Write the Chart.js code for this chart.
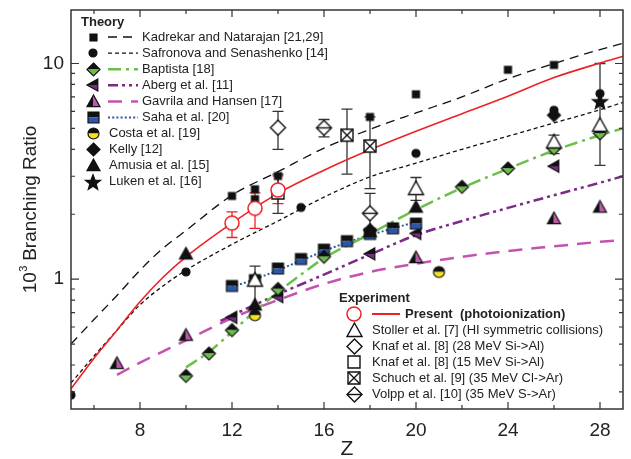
<!DOCTYPE html>
<html>
<head>
<meta charset="utf-8">
<script src="https://cdn.jsdelivr.net/npm/chart.js@4.4.1/dist/chart.umd.min.js"></script>
<style>
  body { margin: 0; background: #fff; }
  canvas { display: block; }
</style>
</head>
<body>
<canvas id="chart" width="631" height="459"></canvas>
<script>
// ---- theory curves (Z, 10^3 branching ratio) ----
const kadZ = [5, 6, 7, 8, 9, 10, 12, 14, 16, 18, 20, 22, 24, 26, 28, 29];
const kadLine = [0.50, 0.65, 0.84, 1.10, 1.39, 1.68, 2.45, 3.15, 4.05, 4.95, 5.9, 7.0, 8.5, 10.0, 11.6, 12.4];
const safZ = [5, 6, 7, 8, 9, 10, 12, 14, 16, 18, 20, 22, 24, 26, 28, 29];
const safLine = [0.33, 0.44, 0.58, 0.76, 0.93, 1.1, 1.45, 1.86, 2.4, 2.98, 3.45, 4.0, 4.6, 5.3, 6.1, 6.6];
const presZ = [5, 6, 7, 8, 9, 10, 12, 14, 16, 18, 20, 22, 24, 26, 28, 29];
const presLine = [0.31, 0.43, 0.58, 0.785, 1.02, 1.27, 1.82, 2.5, 3.2, 3.98, 4.85, 5.85, 7.05, 8.6, 10.05, 10.8];
const baptZ = [10, 11, 12, 13, 14, 15, 16, 18, 20, 22, 24, 26, 28, 29];
const baptLine = [0.39, 0.46, 0.57, 0.71, 0.87, 1.05, 1.25, 1.62, 2.1, 2.65, 3.25, 3.95, 4.65, 5.0];
const abergZ = [11.5, 12, 14, 16, 18, 20, 22, 24, 26, 28, 29];
const abergLine = [0.64, 0.68, 0.85, 1.05, 1.3, 1.6, 1.86, 2.14, 2.45, 2.8, 3.0];
const gavZ = [7, 8, 10, 12, 14, 16, 18, 20, 22, 24, 26, 28, 29];
const gavLine = [0.36, 0.41, 0.52, 0.66, 0.8, 0.95, 1.08, 1.18, 1.27, 1.35, 1.42, 1.49, 1.52];
const sahaZ = [12, 13, 14, 15, 16, 17, 18, 19, 20];
const sahaLine = [0.92, 1.0, 1.1, 1.22, 1.35, 1.48, 1.6, 1.72, 1.84];

// ---- theory points ----
const kadPtsZ = [12, 13, 13, 14, 18, 20, 24, 26];
const kadPts = [2.43, 2.61, 2.35, 3.01, 5.65, 7.2, 9.35, 9.84];
const safPtsZ = [5, 10, 15, 20, 26, 28];
const safPts = [0.29, 1.08, 2.15, 3.83, 6.07, 7.25];
const baptPtsZ = [10, 11, 12, 14, 16, 22, 24, 26, 28];
const baptPts = [0.356, 0.452, 0.58, 0.9, 1.27, 2.68, 3.26, 4.03, 4.74];
const abergPtsZ = [12, 14, 18, 20, 26];
const abergPts = [0.665, 0.83, 1.31, 1.63, 3.34];
const gavPtsZ = [7, 10, 20, 26, 28];
const gavPts = [0.407, 0.55, 1.26, 1.91, 2.16];
const sahaPtsZ = [12, 13, 14, 15, 16, 17, 18, 19, 20];
const sahaPts = [0.93, 0.99, 1.12, 1.24, 1.37, 1.5, 1.62, 1.72, 1.81];
const costaPtsZ = [13, 21];
const costaPts = [0.68, 1.08];
const kellyPtsZ = [18, 26];
const kellyPts = [1.69, 5.76];
const amusiaPtsZ = [10, 13, 18, 20];
const amusiaPts = [1.31, 0.76, 1.66, 2.16];
const lukenPtsZ = [28];
const lukenPts = [6.68];

// ---- experiments (value, low, high) ----
const presPtsZ = [12, 13, 14];
const presPts = [1.82, 2.13, 2.59];
const presLo = [1.56, 1.72, 2.24];
const presHi = [2.05, 2.51, 3.01];
const stolZ = [13, 20, 26, 28];
const stolPts = [0.99, 2.63, 4.33, 5.17];
const stolLo = [0.74, 2.32, 3.82, 3.37];
const stolHi = [1.15, 2.96, 4.65, 10.0];
const knaf28Z = [14];
const knaf28Pts = [5.04];
const knaf28Lo = [4.0];
const knaf28Hi = [6.0];
const knaf15Z = [14];
const knaf15Pts = [2.51];
const knaf15Lo = [2.02];
const knaf15Hi = [3.07];
const schuchZ = [17, 18];
const schuchPts = [4.65, 4.14];
const schuchLo = [3.07, 2.63];
const schuchHi = [6.14, 5.65];
const volppZ = [16, 18];
const volppPts = [5.03, 2.02];
const volppLo = [4.57, 1.63];
const volppHi = [5.5, 2.5];

const xTicks = [8, 12, 16, 20, 24, 28];
const yTicks = [1, 10];

const FONT = "'Liberation Sans', Arial, sans-serif";
const GREEN = '#6cc04a', PURPLE = '#7b2a86', MAGENTA = '#c452b0', BLUE = '#2c56a8', YELLOW = '#f3e21c', RED = '#ec2227';

function shapePath(g, shape, m, r) {
  g.beginPath();
  if (shape === 'square') {
    g.rect(m - r, m - r, 2 * r, 2 * r);
  } else if (shape === 'circle') {
    g.arc(m, m, r, 0, Math.PI * 2);
  } else if (shape === 'diamond') {
    g.moveTo(m, m - r); g.lineTo(m + r, m); g.lineTo(m, m + r); g.lineTo(m - r, m); g.closePath();
  } else if (shape === 'tri') {
    g.moveTo(m, m - r); g.lineTo(m + r, m + r * 0.8); g.lineTo(m - r, m + r * 0.8); g.closePath();
  } else if (shape === 'triLeft') {
    g.moveTo(m - r, m); g.lineTo(m + r * 0.8, m - r); g.lineTo(m + r * 0.8, m + r); g.closePath();
  } else if (shape === 'star') {
    for (let i = 0; i < 10; i++) {
      const a = -Math.PI / 2 + i * Math.PI / 5;
      const rr = i % 2 === 0 ? r : r * 0.42;
      const px = m + rr * Math.cos(a), py = m + rr * Math.sin(a) + r * 0.1;
      if (i === 0) g.moveTo(px, py); else g.lineTo(px, py);
    }
    g.closePath();
  }
}

// builds a small canvas used as a point style
function marker(shape, size, fill, fill2, split, extra, lw) {
  const pad = 2;
  const s = Math.ceil(size + pad * 2);
  const c = document.createElement('canvas');
  c.width = s; c.height = s;
  const g = c.getContext('2d');
  const m = s / 2, r = size / 2;
  shapePath(g, shape, m, r);
  if (fill2) {
    g.save(); g.clip();
    if (split === 'v') {
      g.fillStyle = fill; g.fillRect(0, 0, m, s);
      g.fillStyle = fill2; g.fillRect(m, 0, s - m, s);
    } else {
      g.fillStyle = fill; g.fillRect(0, 0, s, m);
      g.fillStyle = fill2; g.fillRect(0, m, s, s - m);
    }
    g.restore();
  } else if (fill) {
    g.fillStyle = fill; g.fill();
  }
  shapePath(g, shape, m, r);
  g.lineWidth = lw || 1.2;
  g.strokeStyle = extra === 'red' ? RED : '#111';
  g.stroke();
  g.strokeStyle = '#111';
  if (extra === 'x') {
    g.beginPath();
    g.moveTo(m - r, m - r); g.lineTo(m + r, m + r);
    g.moveTo(m + r, m - r); g.lineTo(m - r, m + r);
    g.stroke();
  } else if (extra === 'h') {
    g.beginPath(); g.moveTo(m - r, m); g.lineTo(m + r, m); g.stroke();
  }
  return c;
}

const M = {
  kad: marker('square', 7, '#111'),
  saf: marker('circle', 8, '#111'),
  bapt: marker('diamond', 13, '#111', GREEN, 'h'),
  aberg: marker('triLeft', 12, '#111', PURPLE, 'h'),
  gav: marker('tri', 13, '#111', MAGENTA, 'v'),
  saha: marker('square', 11, '#111', BLUE, 'h'),
  costa: marker('circle', 11, '#111', YELLOW, 'h'),
  kelly: marker('diamond', 13, '#111'),
  amusia: marker('tri', 13, '#111'),
  luken: marker('star', 16, '#111'),
  pres: marker('circle', 14, '#fff', null, null, 'red', 1.5),
  stol: marker('tri', 15, '#fff', null, null, null, 1.4),
  knaf28: marker('diamond', 15, '#fff', null, null, null, 1.4),
  knaf15: marker('square', 12, '#fff', null, null, null, 1.4),
  schuch: marker('square', 12, '#fff', null, null, 'x', 1.4),
  volpp: marker('diamond', 15, '#fff', null, null, 'h', 1.4)
};

function pts(zs, vs) { return zs.map((z, i) => ({ x: z, y: vs[i] })); }

function lineSet(zs, vs, color, width, dash) {
  return {
    data: pts(zs, vs), showLine: true, borderColor: color, borderWidth: width,
    borderDash: dash, pointRadius: 0, cubicInterpolationMode: 'monotone', fill: false, order: 2
  };
}
function pointSet(zs, vs, img) {
  return { data: pts(zs, vs), showLine: false, pointStyle: img, pointRadius: 7, order: 0 };
}

const errorBars = [
  { z: presPtsZ, lo: presLo, hi: presHi, color: RED },
  { z: stolZ, lo: stolLo, hi: stolHi, color: '#333' },
  { z: knaf28Z, lo: knaf28Lo, hi: knaf28Hi, color: '#333' },
  { z: knaf15Z, lo: knaf15Lo, hi: knaf15Hi, color: '#333' },
  { z: schuchZ, lo: schuchLo, hi: schuchHi, color: '#333' },
  { z: volppZ, lo: volppLo, hi: volppHi, color: '#333' }
];

const errorBarPlugin = {
  id: 'errorBars',
  beforeDatasetsDraw(chart) {
    const { ctx, chartArea, scales: { x, y } } = chart;
    ctx.save();
    ctx.beginPath();
    ctx.rect(chartArea.left, chartArea.top, chartArea.right - chartArea.left, chartArea.bottom - chartArea.top);
    ctx.clip();
    errorBars.forEach(set => {
      ctx.strokeStyle = set.color;
      ctx.lineWidth = 1.3;
      set.z.forEach((z, i) => {
        const px = x.getPixelForValue(z);
        const y1 = y.getPixelForValue(set.lo[i]);
        const y2 = y.getPixelForValue(set.hi[i]);
        ctx.beginPath();
        ctx.moveTo(px, y1); ctx.lineTo(px, y2);
        ctx.moveTo(px - 5.5, y1); ctx.lineTo(px + 5.5, y1);
        ctx.moveTo(px - 5.5, y2); ctx.lineTo(px + 5.5, y2);
        ctx.stroke();
      });
    });
    ctx.restore();
  }
};

const frameLegendPlugin = {
  id: 'frameLegend',
  afterDraw(chart) {
    const { ctx, chartArea: a, scales: { x, y } } = chart;
    ctx.save();
    // frame
    ctx.strokeStyle = '#333';
    ctx.lineWidth = 1.5;
    ctx.strokeRect(a.left, a.top, a.right - a.left, a.bottom - a.top);
    // inward ticks, all four sides
    ctx.lineWidth = 1.2;
    ctx.beginPath();
    for (let z = 6; z <= 28; z += 2) {
      const px = x.getPixelForValue(z);
      const len = z % 4 === 0 ? 7 : 4;
      ctx.moveTo(px, a.bottom); ctx.lineTo(px, a.bottom - len);
      ctx.moveTo(px, a.top); ctx.lineTo(px, a.top + len);
    }
    const yMinor = [0.3, 0.4, 0.5, 0.6, 0.7, 0.8, 0.9, 1, 2, 3, 4, 5, 6, 7, 8, 9, 10];
    yMinor.forEach(v => {
      const py = y.getPixelForValue(v);
      const len = (v === 1 || v === 10) ? 8 : 4;
      ctx.moveTo(a.left, py); ctx.lineTo(a.left + len, py);
      ctx.moveTo(a.right, py); ctx.lineTo(a.right - len, py);
    });
    ctx.stroke();

    // axis titles
    ctx.fillStyle = '#222';
    ctx.font = '21px ' + FONT;
    ctx.textAlign = 'center';
    ctx.textBaseline = 'middle';
    ctx.fillText('Z', (a.left + a.right) / 2, 449);

    ctx.save();
    ctx.translate(29, (a.top + a.bottom) / 2);
    ctx.rotate(-Math.PI / 2);
    ctx.textAlign = 'left';
    ctx.textBaseline = 'alphabetic';
    const t1 = '10', t3 = ' Branching Ratio';
    ctx.font = '19px ' + FONT;
    const w1 = ctx.measureText(t1).width;
    ctx.font = '11px ' + FONT;
    const w2 = ctx.measureText('3').width;
    ctx.font = '19px ' + FONT;
    const w3 = ctx.measureText(t3).width;
    const sx = -(w1 + w2 + w3) / 2;
    ctx.fillText(t1, sx, 7);
    ctx.font = '11px ' + FONT;
    ctx.fillText('3', sx + w1 + 0.5, -2);
    ctx.font = '19px ' + FONT;
    ctx.fillText(t3, sx + w1 + w2, 7);
    ctx.restore();

    // legends
    ctx.textAlign = 'left';
    ctx.textBaseline = 'middle';
    const img = (m, cx, cy) => ctx.drawImage(m, Math.round(cx - m.width / 2), Math.round(cy - m.height / 2));
    const seg = (x1, x2, cy, color, w, dash) => {
      ctx.save();
      ctx.strokeStyle = color; ctx.lineWidth = w; ctx.setLineDash(dash);
      ctx.beginPath(); ctx.moveTo(x1, cy); ctx.lineTo(x2, cy); ctx.stroke();
      ctx.restore();
    };

    ctx.font = 'bold 13px ' + FONT;
    ctx.fillStyle = '#222';
    ctx.fillText('Theory', 81, 22);
    const theory = [
      [M.kad, 'Kadrekar and Natarajan [21,29]', '#111', 1.3, [9, 6]],
      [M.saf, 'Safronova and Senashenko [14]', '#111', 1.3, [4, 3]],
      [M.bapt, 'Baptista [18]', GREEN, 2.5, [13, 5, 3, 5]],
      [M.aberg, 'Aberg et al. [11]', PURPLE, 2.5, [10, 4, 3, 4, 3, 4]],
      [M.gav, 'Gavrila and Hansen [17]', MAGENTA, 2.5, [14, 9]],
      [M.saha, 'Saha et al. [20]', BLUE, 2, [2, 2.2]],
      [M.costa, 'Costa et al. [19]'],
      [M.kelly, 'Kelly [12]'],
      [M.amusia, 'Amusia et al. [15]'],
      [M.luken, 'Luken et al. [16]']
    ];
    ctx.font = '13px ' + FONT;
    theory.forEach((row, i) => {
      const cy = 37 + i * 16.1;
      img(row[0], 93, cy);
      if (row[2]) {
        seg(108, 138, cy, row[2], row[3], row[4]);
        ctx.fillText(row[1], 142, cy);
      } else {
        ctx.fillText(row[1], 109, cy);
      }
    });

    ctx.font = 'bold 13px ' + FONT;
    ctx.fillText('Experiment', 339, 298);
    img(M.pres, 354, 314);
    seg(372, 400, 314, RED, 2, []);
    ctx.fillText('Present  (photoionization)', 405, 314);
    ctx.font = '13px ' + FONT;
    const exp = [
      [M.stol, 'Stoller et al. [7] (HI symmetric collisions)'],
      [M.knaf28, 'Knaf et al. [8] (28 MeV Si->Al)'],
      [M.knaf15, 'Knaf et al. [8] (15 MeV Si->Al)'],
      [M.schuch, 'Schuch et al. [9] (35 MeV Cl->Ar)'],
      [M.volpp, 'Volpp et al. [10] (35 MeV S->Ar)']
    ];
    exp.forEach((row, i) => {
      const cy = 330.5 + i * 15.9;
      img(row[0], 354, cy);
      ctx.fillText(row[1], 372, cy);
    });
    ctx.restore();
  }
};

function noPad(s) {
  s.paddingTop = 0; s.paddingBottom = 0; s.paddingLeft = 0; s.paddingRight = 0;
}

new Chart(document.getElementById('chart'), {
  type: 'scatter',
  data: {
    datasets: [
      pointSet(presPtsZ, presPts, M.pres),
      pointSet(stolZ, stolPts, M.stol),
      pointSet(knaf28Z, knaf28Pts, M.knaf28),
      pointSet(knaf15Z, knaf15Pts, M.knaf15),
      pointSet(schuchZ, schuchPts, M.schuch),
      pointSet(volppZ, volppPts, M.volpp),
      pointSet(lukenPtsZ, lukenPts, M.luken),
      pointSet(safPtsZ, safPts, M.saf),
      pointSet(kadPtsZ, kadPts, M.kad),
      pointSet(costaPtsZ, costaPts, M.costa),
      pointSet(amusiaPtsZ, amusiaPts, M.amusia),
      pointSet(kellyPtsZ, kellyPts, M.kelly),
      pointSet(baptPtsZ, baptPts, M.bapt),
      pointSet(sahaPtsZ, sahaPts, M.saha),
      pointSet(abergPtsZ, abergPts, M.aberg),
      pointSet(gavPtsZ, gavPts, M.gav),
      lineSet(presZ, presLine, RED, 1.6, []),
      lineSet(kadZ, kadLine, '#111', 1.3, [9, 6]),
      lineSet(safZ, safLine, '#111', 1.3, [4, 3]),
      lineSet(baptZ, baptLine, GREEN, 2.5, [13, 5, 3, 5]),
      lineSet(abergZ, abergLine, PURPLE, 2.5, [10, 4, 3, 4, 3, 4]),
      lineSet(gavZ, gavLine, MAGENTA, 2.5, [14, 9]),
      lineSet(sahaZ, sahaLine, BLUE, 2, [2, 2.2])
    ]
  },
  options: {
    responsive: false,
    animation: false,
    devicePixelRatio: 1,
    events: [],
    layout: { padding: { top: 10, right: 4, left: 0, bottom: 0 } },
    plugins: { legend: { display: false }, tooltip: { enabled: false } },
    scales: {
      x: {
        type: 'linear', min: 5, max: 29,
        grid: { display: false, drawTicks: false },
        border: { display: false },
        afterBuildTicks: s => { s.ticks = xTicks.map(v => ({ value: v })); },
        afterFit: s => { s.height = 50; noPad(s); },
        ticks: { padding: 10, color: '#222', font: { size: 19, family: FONT }, maxRotation: 0 }
      },
      y: {
        type: 'logarithmic', min: 0.25, max: 17.7,
        grid: { display: false, drawTicks: false },
        border: { display: false },
        afterBuildTicks: s => { s.ticks = yTicks.map(v => ({ value: v })); },
        afterFit: s => { s.width = 71; noPad(s); },
        ticks: { padding: 7, color: '#222', font: { size: 19, family: FONT }, callback: v => String(v) }
      }
    }
  },
  plugins: [errorBarPlugin, frameLegendPlugin]
});
</script>
</body>
</html>
